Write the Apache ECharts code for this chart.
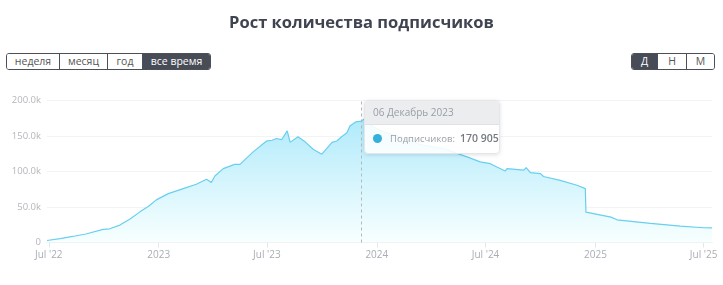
<!DOCTYPE html>
<html>
<head>
<meta charset="utf-8">
<script src="https://cdn.jsdelivr.net/npm/echarts@6/dist/echarts.min.js"></script>
<style>
  html, body { margin:0; padding:0; background:#fff; }
  #wrap { position:relative; width:723px; height:285px; overflow:hidden; font-family:"Open Sans","Noto Sans",sans-serif; }
  #chart { position:absolute; left:0; top:0; width:723px; height:285px; }
  #title { position:absolute; left:0; top:10px; width:723px; text-align:center; font-size:16.5px; font-weight:700; color:#3f4450; }
  .grp { position:absolute; top:53px; display:flex; border:1px solid #4a4f58; border-radius:3px; overflow:hidden; height:15px; }
  .grp span { display:block; font-size:10.5px; line-height:15px; color:#555; text-align:center; border-left:1px solid #4a4f58; background:#fff; }
  .grp span:first-child { border-left:none; }
  .grp span.on { background:#474c56; color:#fff; }
</style>
</head>
<body>
<div id="wrap">
  <div id="chart"></div>
  <div id="title">Рост количества подписчиков</div>
  <div class="grp" style="left:6px;">
    <span style="width:52px">неделя</span>
    <span style="width:47px">месяц</span>
    <span style="width:34px">год</span>
    <span class="on" style="width:67px">все время</span>
  </div>
  <div class="grp" style="left:631px;">
    <span class="on" style="width:25px">Д</span>
    <span style="width:28px">Н</span>
    <span style="width:27px">М</span>
  </div>
</div>
<script>
// ---- data ----
const dates = [
  '2022-06-28','2022-07-20','2022-08-10','2022-09-01','2022-09-30','2022-10-11','2022-10-28','2022-11-14','2022-11-30',
  '2022-12-15','2022-12-28','2023-01-17','2023-01-20','2023-02-11','2023-03-05','2023-03-22','2023-03-30','2023-04-05',
  '2023-04-19','2023-05-08','2023-05-17','2023-06-08','2023-06-30','2023-07-10','2023-07-17','2023-07-26','2023-08-04',
  '2023-08-09','2023-08-22','2023-09-03','2023-09-17','2023-10-01','2023-10-18','2023-10-26','2023-11-03','2023-11-12',
  '2023-11-17','2023-11-27','2023-12-06','2023-12-12','2023-12-25','2024-01-12','2024-02-09','2024-03-18','2024-04-21',
  '2024-05-31','2024-06-22','2024-07-09','2024-07-12','2024-07-20','2024-08-03','2024-08-06','2024-09-03','2024-09-07',
  '2024-09-14','2024-10-01','2024-10-06','2024-11-03','2024-12-01','2024-12-15','2024-12-16','2025-01-27','2025-02-06',
  '2025-04-03','2025-05-23','2025-07-01','2025-07-15'
];
const subscribers = [
  2800, 5500, 8500, 12000, 18500, 19300, 24500, 33000, 42800,
  51000, 60000, 68800, 67400, 75900, 82000, 89000, 84400, 93700,
  104000, 110000, 110000, 127600, 142700, 144000, 146500, 145000, 157300,
  141000, 149000, 141800, 131000, 124400, 141000, 143000, 149000, 154500,
  164000, 170000, 170905, 174800, 163000, 156000, 149000, 137000, 132400,
  120600, 113500, 111000, 113500, 106400, 100800, 104000, 101800, 105600,
  98500, 97000, 93000, 87600, 80600, 75900, 42800, 35800, 32000,
  27000, 23000, 20800, 20500
];
const tickDates = ['2022-07-01','2023-01-01','2023-07-01','2024-01-01','2024-07-01','2025-01-01','2025-07-01'];
const tickLabels = ["Jul '22", '2023', "Jul '23", '2024', "Jul '24", '2025', "Jul '25"];
const yTicks = [0, 50000, 100000, 150000, 200000];
const monthsRu = ['Январь','Февраль','Март','Апрель','Май','Июнь','Июль','Август','Сентябрь','Октябрь','Ноябрь','Декабрь'];
const tipDate = '2023-12-06';

const ts = s => { const [y,m,d] = s.split('-').map(Number); return Date.UTC(y, m-1, d); };
const seriesData = dates.map((d, i) => [ts(d), subscribers[i]]);
const tickTs = tickDates.map(ts);

const chart = echarts.init(document.getElementById('chart'), null, { renderer: 'canvas' });
const option = {
  animation: false,
  textStyle: { fontFamily: '"Open Sans","Noto Sans",sans-serif' },
  grid: { left: 47, right: 11, top: 100.5, bottom: 42.5, containLabel: false },
  xAxis: {
    type: 'value',
    min: ts(dates[0]),
    max: ts(dates[dates.length - 1]),
    axisLine: { show: true, lineStyle: { color: '#e3e6ea', width: 1 } },
    axisTick: { show: true, customValues: tickTs, length: 5, lineStyle: { color: '#e3e6ea' } },
    axisLabel: {
      customValues: tickTs,
      color: '#a9adb5', fontSize: 10, margin: 8,
      formatter: v => { const i = tickTs.indexOf(v); return i >= 0 ? tickLabels[i] : ''; }
    },
    splitLine: { show: false }
  },
  yAxis: {
    type: 'value',
    min: yTicks[0], max: yTicks[yTicks.length - 1], interval: 50000,
    axisLine: { show: false }, axisTick: { show: false },
    axisLabel: {
      color: '#b3b6bc', fontSize: 9.5, margin: 6,
      formatter: v => v === 0 ? '0' : (v / 1000).toFixed(1) + 'k'
    },
    splitLine: { lineStyle: { color: '#f2f3f5', width: 1 } }
  },
  tooltip: {
    trigger: 'axis',
    triggerOn: 'none',
    alwaysShowContent: true,
    position: [364, 100],
    padding: 0,
    borderWidth: 1,
    borderColor: '#e4e6e9',
    backgroundColor: 'rgba(255,255,255,0.88)',
    extraCssText: 'box-shadow:0 1px 4px rgba(0,0,0,0.12);border-radius:4px;overflow:hidden;',
    axisPointer: {
      type: 'line',
      label: { show: false },
      lineStyle: { color: '#b5b9bf', type: [3, 3], width: 1 }
    },
    formatter: params => {
      const p = params[0];
      const d = new Date(p.value[0]);
      const dd = String(d.getUTCDate()).padStart(2, '0');
      const head = dd + ' ' + monthsRu[d.getUTCMonth()] + ' ' + d.getUTCFullYear();
      const val = String(p.value[1]).replace(/\B(?=(\d{3})+(?!\d))/g, ' ');
      return '<div style="font-family:Open Sans,Noto Sans,sans-serif;width:134px;">' +
        '<div style="background:rgba(234,236,238,0.95);color:#9a9ea5;font-size:10px;line-height:23px;padding:0 0 0 8px;border-bottom:1px solid #e0e2e5;">' + head + '</div>' +
        '<div style="padding:7px 0 8px 8px;font-size:9.5px;line-height:13px;color:#9a9ea5;white-space:nowrap;">' +
        '<span style="display:inline-block;width:9px;height:9px;border-radius:50%;background:#35afdb;vertical-align:-1px;margin-right:8px;"></span>' +
        'Подписчиков:&nbsp; <span style="color:#767a81;font-size:10.5px;font-weight:600;">' + val + '</span></div></div>';
    }
  },
  series: [{
    type: 'line',
    data: seriesData,
    showSymbol: false,
    symbol: 'none',
    lineStyle: { color: '#5fbdd9', width: 1.2 },
    itemStyle: { color: '#35afdb' },
    areaStyle: {
      opacity: 1,
      color: new echarts.graphic.LinearGradient(0, 0, 0, 1, [
        { offset: 0, color: '#a0d5e5' },
        { offset: 1, color: '#e2f2f8' }
      ])
    }
  }]
};
chart.setOption(option);
chart.dispatchAction({ type: 'showTip', seriesIndex: 0, dataIndex: dates.indexOf(tipDate) });
</script>
</body>
</html>
